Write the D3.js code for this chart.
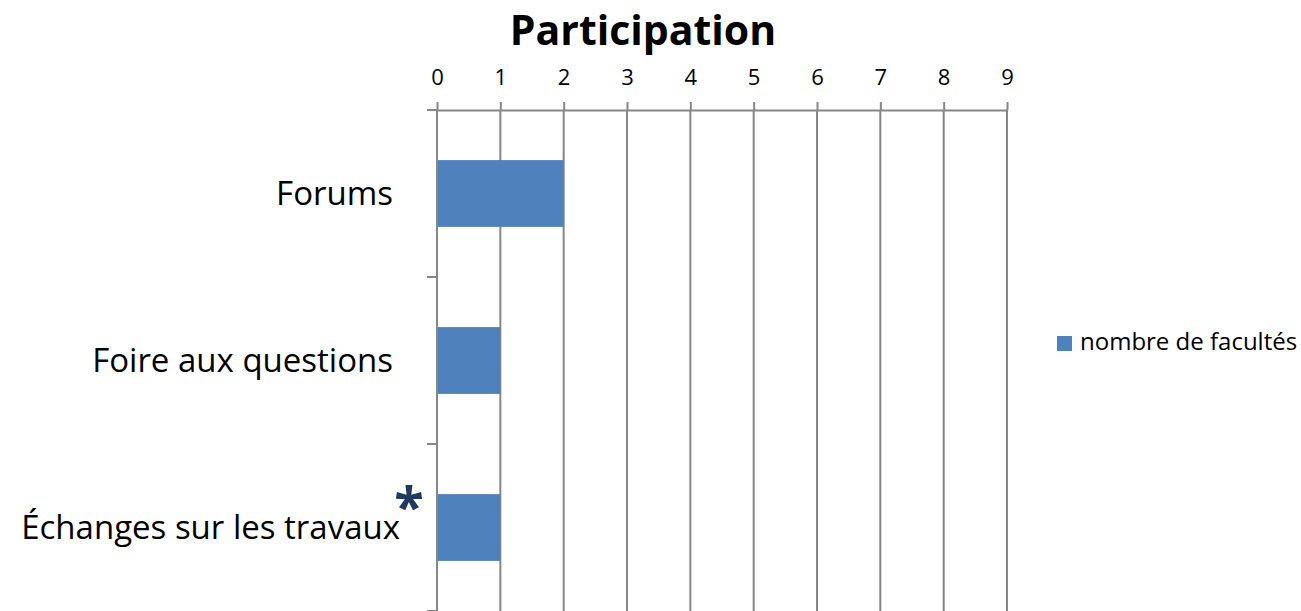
<!DOCTYPE html>
<html lang="fr">
<head>
<meta charset="UTF-8">
<title>Participation</title>
<script src="https://d3js.org/d3.v7.min.js"></script>
<style>
  body { margin: 0; background: #fff; }
  svg { display: block; font-family: "Open Sans", sans-serif; }
  .grid line { stroke: #878787; stroke-width: 2; }
  .axis path, .axis line { stroke: #878787; stroke-width: 2; }
</style>
</head>
<body>
<div id="chart"></div>
<script>
const categories = ["Forums", "Foire aux questions", "Échanges sur les travaux"];
const values = [2, 1, 1];
const xTicks = [0, 1, 2, 3, 4, 5, 6, 7, 8, 9];
const seriesName = "nombre de facultés";
const title = "Participation";

const width = 1301, height = 611;
const plotLeft = 437, plotRight = 1007, plotTop = 110, plotBottom = 611;

const svg = d3.select("#chart").append("svg")
    .attr("width", width).attr("height", height);

const x = d3.scaleLinear().domain([0, 9]).range([plotLeft, plotRight]);
const y = d3.scaleBand().domain(categories).range([plotTop, plotBottom]).paddingInner(0.6).paddingOuter(0.3);

// vertical grid lines
svg.append("g").attr("class", "grid")
  .selectAll("line").data(xTicks).join("line")
    .attr("x1", d => x(d)).attr("x2", d => x(d))
    .attr("y1", plotTop).attr("y2", plotBottom);

// top axis
const xAxis = svg.append("g").attr("class", "axis")
    .attr("transform", `translate(0,${plotTop})`)
    .call(d3.axisTop(x).tickValues(xTicks).tickSize(8).tickSizeOuter(0));
xAxis.selectAll("text")
    .attr("font-size", 22).attr("fill", "#000")
    .attr("font-family", "Open Sans, sans-serif")
    .attr("y", -25);

// left axis line with category separators
svg.append("line")
    .attr("x1", plotLeft).attr("x2", plotLeft).attr("y1", plotTop).attr("y2", plotBottom)
    .attr("stroke", "#878787").attr("stroke-width", 2);
const band = (plotBottom - plotTop) / categories.length;
svg.append("g").selectAll("line")
  .data(d3.range(categories.length + 1)).join("line")
    .attr("x1", plotLeft - 10).attr("x2", plotLeft)
    .attr("y1", d => plotTop + d * band).attr("y2", d => plotTop + d * band)
    .attr("stroke", "#878787").attr("stroke-width", 2);

// bars
svg.append("g").selectAll("rect")
  .data(categories).join("rect")
    .attr("x", x(0) + 1)
    .attr("y", d => y(d))
    .attr("width", (d, i) => x(values[i]) - x(0) - 1)
    .attr("height", y.bandwidth())
    .attr("fill", "#4F81BD");

// category labels
svg.append("g").selectAll("text")
  .data(categories).join("text")
    .attr("x", (d, i) => i === 2 ? 400 : 393)
    .attr("y", d => y(d) + y.bandwidth() / 2)
    .attr("dy", "0.36em")
    .attr("text-anchor", "end")
    .attr("font-size", 33)
    .attr("fill", "#000")
    .text(d => d);

// asterisk marker
svg.append("text")
    .attr("x", 409).attr("y", 526)
    .attr("text-anchor", "middle")
    .attr("font-size", 54).attr("font-weight", "bold")
    .attr("fill", "#1F3A60")
    .text("*");

// title
svg.append("text")
    .attr("x", 643).attr("y", 45)
    .attr("text-anchor", "middle")
    .attr("font-size", 41).attr("font-weight", "bold")
    .text(title);

// legend
svg.append("rect")
    .attr("x", 1057).attr("y", 336).attr("width", 15).attr("height", 15)
    .attr("fill", "#4F81BD");
svg.append("text")
    .attr("x", 1080).attr("y", 350)
    .attr("font-size", 24)
    .text(seriesName);
</script>
</body>
</html>
